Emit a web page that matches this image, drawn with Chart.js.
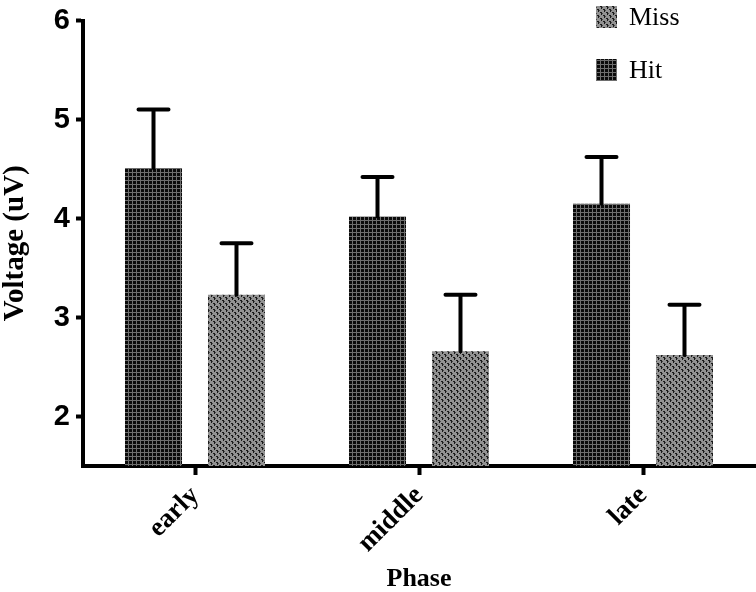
<!DOCTYPE html>
<html>
<head>
<meta charset="utf-8">
<script src="https://cdn.jsdelivr.net/npm/chart.js@4.4.1/dist/chart.umd.min.js"></script>
<style>
  html, body { margin: 0; padding: 0; background: #fff; }
  #wrap { width: 756px; height: 592px; }
</style>
</head>
<body>
<div id="wrap"><canvas id="c" width="756" height="592"></canvas></div>
<script>
// ---- data ----
const categories = ['early', 'middle', 'late'];
const hitValues  = [4.51, 4.02, 4.15];
const hitErrors  = [0.59, 0.40, 0.47];
const missValues = [3.23, 2.66, 2.62];
const missErrors = [0.52, 0.57, 0.51];
const yTickValues = [2, 3, 4, 5, 6];
const seriesNames = ['Hit', 'Miss'];

// ---- patterns ----
function makeHitPattern(ctx) {
  const c = document.createElement('canvas');
  c.width = 4; c.height = 4;
  const g = c.getContext('2d');
  g.fillStyle = '#6e6e6e';
  g.fillRect(0, 0, 4, 4);
  g.fillStyle = '#0a0a0a';
  g.fillRect(1, 1, 3, 3);
  return ctx.createPattern(c, 'repeat');
}
function makeMissPattern(ctx) {
  const c = document.createElement('canvas');
  c.width = 6; c.height = 6;
  const g = c.getContext('2d');
  g.fillStyle = '#929292';
  g.fillRect(0, 0, 6, 6);
  g.fillStyle = '#1a1a1a';
  g.fillRect(0, 0, 2, 1);
  g.fillRect(1, 1, 1, 2);
  g.fillRect(3, 3, 2, 1);
  g.fillRect(4, 4, 1, 2);
  g.fillStyle = '#4a4a4a';
  g.fillRect(2, 1, 1, 1);
  g.fillRect(5, 4, 1, 1);
  return ctx.createPattern(c, 'repeat');
}

const canvas = document.getElementById('c');
const ctx = canvas.getContext('2d');
const hitPattern = makeHitPattern(ctx);
const missPattern = makeMissPattern(ctx);

const errorBarPlugin = {
  id: 'errorBars',
  afterDatasetsDraw(chart) {
    const c = chart.ctx;
    const y = chart.scales.y;
    c.save();
    c.strokeStyle = '#000';
    c.lineWidth = 4;
    c.lineCap = 'round';
    chart.data.datasets.forEach((ds, di) => {
      const meta = chart.getDatasetMeta(di);
      meta.data.forEach((bar, i) => {
        const top = y.getPixelForValue(ds.data[i] + ds.errors[i]);
        c.beginPath();
        c.moveTo(bar.x, bar.y);
        c.lineTo(bar.x, top);
        c.moveTo(bar.x - 15, top);
        c.lineTo(bar.x + 15, top);
        c.stroke();
      });
    });
    c.restore();
  }
};

const legendPlugin = {
  id: 'customLegend',
  afterDraw(chart) {
    const c = chart.ctx;
    c.save();
    const order = [1, 0];
    order.forEach((di, k) => {
      const ds = chart.data.datasets[di];
      const cy = 17 + k * 53;
      c.fillStyle = ds.backgroundColor;
      c.fillRect(596, cy - 11, 21, 22);
      c.fillStyle = '#000';
      c.font = '26px "Liberation Serif", "Times New Roman", serif';
      c.textBaseline = 'middle';
      c.textAlign = 'left';
      c.fillText(ds.label, 629, cy + 1);
    });
    c.restore();
  }
};

new Chart(canvas, {
  type: 'bar',
  data: {
    labels: categories,
    datasets: [
      { label: seriesNames[0], data: hitValues, errors: hitErrors, backgroundColor: hitPattern, borderWidth: 0 },
      { label: seriesNames[1], data: missValues, errors: missErrors, backgroundColor: missPattern, borderWidth: 0 }
    ]
  },
  options: {
    responsive: false,
    animation: false,
    categoryPercentage: 0.741,
    barPercentage: 0.687,
    layout: { padding: { left: 0, right: 1, top: 16, bottom: 0 } },
    plugins: {
      legend: { display: false },
      tooltip: { enabled: false }
    },
    scales: {
      x: {
        z: 1,
        offset: true,
        grid: { display: true, drawOnChartArea: false, drawTicks: true, offset: false, tickLength: 9, tickWidth: 4, tickColor: '#000' },
        border: { display: true, color: '#000', width: 4 },
        ticks: {
          autoSkip: false, minRotation: 45, maxRotation: 45, padding: 5, color: '#000',
          font: { family: '"Liberation Serif", "Times New Roman", serif', size: 27, weight: 'bold' }
        },
        title: {
          display: true, text: 'Phase', color: '#000', padding: { top: 0, bottom: 0 },
          font: { family: '"Liberation Serif", "Times New Roman", serif', size: 26, weight: 'bold', lineHeight: 1.0 }
        },
        afterFit(scale) { scale.height = 126; }
      },
      y: {
        z: 1,
        min: 1.5,
        max: 6,
        afterBuildTicks(scale) { scale.ticks = yTickValues.map(v => ({ value: v })); },
        grid: { display: true, drawOnChartArea: false, drawTicks: true, tickLength: 7, tickWidth: 4, tickColor: '#000' },
        border: { display: true, color: '#000', width: 4 },
        ticks: {
          padding: 6, color: '#000',
          font: { family: '"Liberation Sans", Arial, sans-serif', size: 29, weight: 'bold', lineHeight: 1.0 }
        },
        title: {
          display: true, text: 'Voltage (uV)', color: '#000', padding: { top: 1, bottom: 0 },
          font: { family: '"Liberation Serif", "Times New Roman", serif', size: 29, weight: 'bold', lineHeight: 1.0 }
        },
        afterFit(scale) { scale.width = 83; }
      }
    }
  },
  plugins: [errorBarPlugin, legendPlugin]
});
</script>
</body>
</html>
